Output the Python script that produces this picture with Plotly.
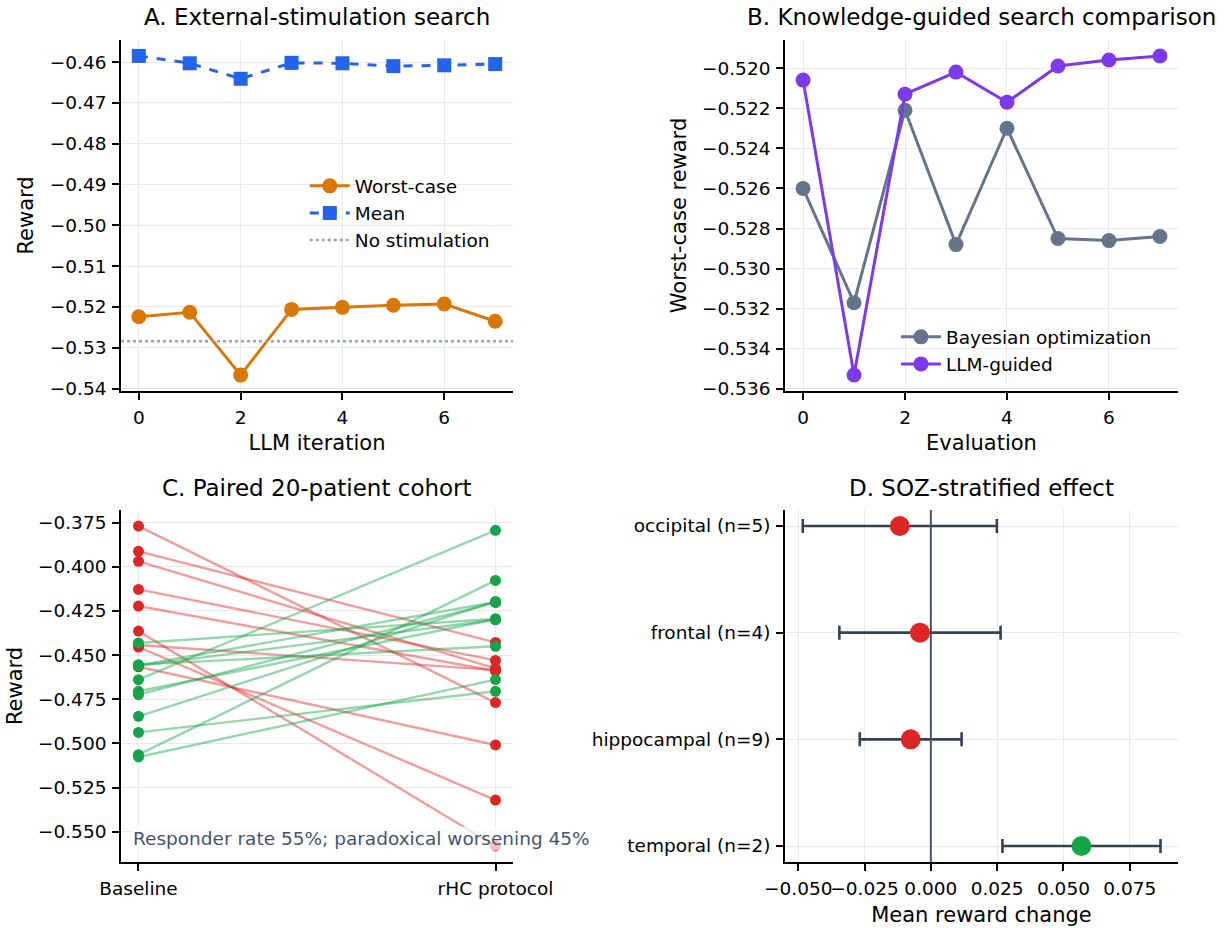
import plotly.graph_objects as go

# ---------------- data ----------------
llm_iter = [0, 1, 2, 3, 4, 5, 6, 7]
worst_case = [-0.5224, -0.5213, -0.5367, -0.5206, -0.5201, -0.5196, -0.5193, -0.5235]
mean_reward = [-0.4585, -0.4603, -0.4641, -0.4602, -0.4603, -0.4610, -0.4608, -0.4605]
no_stim = -0.5284

evals = [0, 1, 2, 3, 4, 5, 6, 7]
bayes_opt = [-0.5260, -0.5317, -0.5221, -0.5288, -0.5230, -0.5285, -0.5286, -0.5284]
llm_guided = [-0.5206, -0.5353, -0.5213, -0.5202, -0.5217, -0.5199, -0.5196, -0.5194]

cohort_labels = ["Baseline", "rHC protocol"]
baseline = [-0.3769, -0.3912, -0.3969, -0.4128, -0.4222, -0.4364, -0.4443, -0.4454, -0.4566,
            -0.4431, -0.4554, -0.4558, -0.4639, -0.4705, -0.4724, -0.4847, -0.4938, -0.5064, -0.5077, -0.4560]
rhc = [-0.4769, -0.4428, -0.4575, -0.4530, -0.4590, -0.5581, -0.4585, -0.5321, -0.5009,
       -0.4294, -0.4450, -0.4199, -0.3793, -0.4297, -0.4202, -0.4196, -0.4705, -0.4077, -0.4639, -0.4300]
annot_text = "Responder rate 55%; paradoxical worsening 45%"

soz_labels = ["occipital (n=5)", "frontal (n=4)", "hippocampal (n=9)", "temporal (n=2)"]
soz_mean = [-0.0117, -0.0041, -0.0076, 0.0568]
soz_err = [0.0366, 0.0304, 0.0192, 0.0298]

ticks_a = [-0.54, -0.53, -0.52, -0.51, -0.50, -0.49, -0.48, -0.47, -0.46]
ticks_b = [-0.536, -0.534, -0.532, -0.530, -0.528, -0.526, -0.524, -0.522, -0.520]
ticks_c = [-0.550, -0.525, -0.500, -0.475, -0.450, -0.425, -0.400, -0.375]
ticks_d = [-0.050, -0.025, 0.000, 0.025, 0.050, 0.075]

# ---------------- styles ----------------
FONT = "DejaVu Sans"
TICK = 18.5
LAB = 21
TTL = 23
LEG = 18.5
ORANGE = "#d97706"
BLUE = "#2563eb"
SLATE_L = "#94a3b8"
SLATE = "#64748b"
VIOLET = "#7c3aed"
GREEN = "#16a34a"
RED = "#dc2626"
GRID = "#e9e9e9"
ERR = "#334155"

def fmt(v, d):
    s = f"{abs(v):.{d}f}"
    return ("\u2212" + s) if v < 0 else s

def axis(dom, anchor, rng, tickvals=None, ticktext=None, title=None, standoff=None):
    a = dict(domain=dom, anchor=anchor, range=rng, showline=True, linecolor="black", linewidth=1.7,
             ticks="outside", ticklen=7, tickwidth=1.7, tickcolor="black", showgrid=True,
             gridcolor=GRID, gridwidth=1.3, zeroline=False, ticklabelstandoff=2, tickangle=0,
             automargin=False,
             tickfont=dict(family=FONT, size=TICK, color="black"))
    if tickvals is not None:
        a["tickmode"] = "array"
        a["tickvals"] = tickvals
        a["ticktext"] = ticktext
    if title:
        a["title"] = dict(text=title, font=dict(family=FONT, size=LAB, color="black"))
        if standoff is not None:
            a["title"]["standoff"] = standoff
    return a

fig = go.Figure()

# Panel A
fig.add_trace(go.Scatter(x=llm_iter, y=worst_case, mode="lines+markers", name="Worst-case",
                         line=dict(color=ORANGE, width=3), marker=dict(symbol="circle", size=15, color=ORANGE),
                         xaxis="x", yaxis="y", legend="legend"))
fig.add_trace(go.Scatter(x=llm_iter, y=mean_reward, mode="lines+markers", name="Mean",
                         line=dict(color=BLUE, width=3, dash="dash"), marker=dict(symbol="square", size=14, color=BLUE),
                         xaxis="x", yaxis="y", legend="legend"))
fig.add_shape(type="line", xref="x domain", yref="y", x0=0, x1=1, y0=no_stim, y1=no_stim,
              line=dict(color=SLATE_L, width=2.6, dash="dot"), name="No stimulation",
              showlegend=True, legend="legend", layer="above")

# Panel B
fig.add_trace(go.Scatter(x=evals, y=bayes_opt, mode="lines+markers", name="Bayesian optimization",
                         line=dict(color=SLATE, width=3), marker=dict(size=15, color=SLATE),
                         xaxis="x2", yaxis="y2", legend="legend2"))
fig.add_trace(go.Scatter(x=evals, y=llm_guided, mode="lines+markers", name="LLM-guided",
                         line=dict(color=VIOLET, width=3), marker=dict(size=15, color=VIOLET),
                         xaxis="x2", yaxis="y2", legend="legend2"))

# Panel C
for b, r in zip(baseline, rhc):
    better = r > b
    col = GREEN if better else RED
    lcol = "rgba(22,163,74,0.45)" if better else "rgba(220,38,38,0.45)"
    fig.add_trace(go.Scatter(x=[0, 1], y=[b, r], mode="lines", line=dict(color=lcol, width=2.4),
                             showlegend=False, hoverinfo="skip", xaxis="x3", yaxis="y3"))
    fig.add_trace(go.Scatter(x=[0, 1], y=[b, r], mode="markers", marker=dict(color=col, size=11),
                             showlegend=False, xaxis="x3", yaxis="y3"))

# Panel D
soz_y = list(range(len(soz_labels)))
fig.add_shape(type="line", xref="x4", yref="y4 domain", x0=0, x1=0, y0=0, y1=1,
              line=dict(color="#475569", width=2), layer="above")
fig.add_trace(go.Scatter(x=soz_mean, y=soz_y, mode="markers",
                         marker=dict(size=20, color=[GREEN if m > 0 else RED for m in soz_mean]),
                         error_x=dict(type="data", array=soz_err, visible=True, color=ERR, thickness=2.6, width=7),
                         showlegend=False, xaxis="x4", yaxis="y4"))

xa = [0.09845, 0.41741]
xb = [0.63873, 0.95850]
yt = [0.57866, 0.95690]
yb = [0.07112, 0.45043]

fig.update_layout(
    width=1229, height=928, margin=dict(l=0, r=0, t=0, b=0, autoexpand=False),
    paper_bgcolor="white", plot_bgcolor="white",
    font=dict(family=FONT, color="black"),
    xaxis=axis(xa, "y", [-0.35, 7.35], [0, 2, 4, 6], ["0", "2", "4", "6"], "LLM iteration", 8),
    yaxis=axis(yt, "x", [-0.5406, -0.4546], ticks_a, [fmt(v, 2) for v in ticks_a], "Reward", 10),
    xaxis2=axis(xb, "y2", [-0.354, 7.354], [0, 2, 4, 6], ["0", "2", "4", "6"], "Evaluation", 8),
    yaxis2=axis(yt, "x2", [-0.5361, -0.5186], ticks_b, [fmt(v, 3) for v in ticks_b], "Worst-case reward", 10),
    xaxis3=axis(xa, "y3", [-0.049, 1.049], [0, 1], cohort_labels),
    yaxis3=axis(yb, "x3", [-0.5672, -0.3678], ticks_c, [fmt(v, 3) for v in ticks_c], "Reward", 10),
    xaxis4=axis(xb, "y4", [-0.0550, 0.0932], ticks_d, [fmt(v, 3) for v in ticks_d], "Mean reward change", 9),
    yaxis4=axis(yb, "x4", [3.15, -0.15], soz_y, soz_labels),
    legend=dict(x=0.248, y=0.8197, xanchor="left", yanchor="top", bgcolor="rgba(255,255,255,0)",
                itemwidth=40, font=dict(family=FONT, size=LEG, color="black"), borderwidth=0),
    legend2=dict(x=0.729, y=0.657, xanchor="left", yanchor="top", bgcolor="rgba(255,255,255,0)",
                 itemwidth=40, font=dict(family=FONT, size=LEG, color="black"), borderwidth=0),
)

titles = [("A. External-stimulation search", sum(xa) / 2, 1 - 17 / 928),
          ("B. Knowledge-guided search comparison", sum(xb) / 2, 1 - 17 / 928),
          ("C. Paired 20-patient cohort", sum(xa) / 2, 1 - 488 / 928),
          ("D. SOZ-stratified effect", sum(xb) / 2, 1 - 488 / 928)]
for t, x, y in titles:
    fig.add_annotation(text=t, x=x, y=y, xref="paper", yref="paper", xanchor="center", yanchor="middle",
                       showarrow=False, font=dict(family=FONT, size=TTL, color="black"))

fig.add_annotation(text=annot_text, x=0.025, y=0.068, xref="x3 domain", yref="y3 domain",
                   xanchor="left", yanchor="middle", showarrow=False, bgcolor="rgba(255,255,255,0.7)",
                   font=dict(family=FONT, size=LEG, color="#475569"))

fig.write_html("out.html", config={"displayModeBar": False},
               post_script="document.body.style.margin='0px';document.body.style.padding='0px';")
